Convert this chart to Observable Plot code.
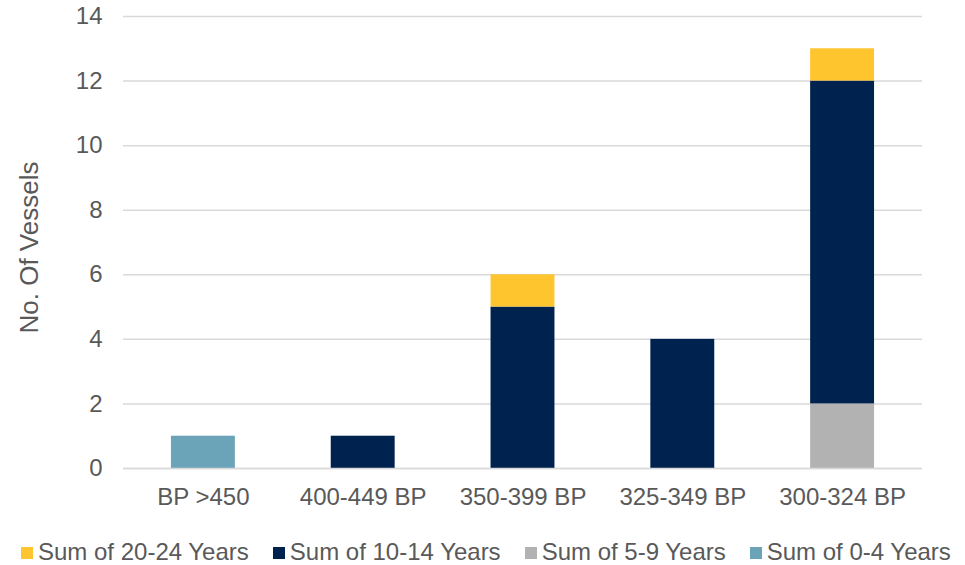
<!DOCTYPE html>
<html>
<head>
<meta charset="utf-8">
<script src="https://cdn.jsdelivr.net/npm/d3@7"></script>
<script src="https://cdn.jsdelivr.net/npm/@observablehq/plot@0.6"></script>
<style>
  html, body { margin: 0; padding: 0; background: #fff; }
  #chart { width: 965px; font-family: "Liberation Sans", Arial, sans-serif; }
  .legend { display: flex; align-items: center; height: 35px; box-sizing: border-box; padding: 9px 0 0 21px; font-size: 24px; line-height: 24px; color: #595959; white-space: nowrap; }
  .legend .item { display: flex; align-items: center; margin-right: 24px; }
  .legend .sw { width: 12px; height: 12px; margin-right: 5px; margin-top: 2px; }
</style>
</head>
<body>
<div id="chart"></div>
<script>
// Vessel size bands along the x axis
const categories = ["BP >450", "400-449 BP", "350-399 BP", "325-349 BP", "300-324 BP"];

// Age groups, stacked bottom to top
const series = ["Sum of 0-4 Years", "Sum of 5-9 Years", "Sum of 10-14 Years", "Sum of 20-24 Years"];
const colors = ["#6BA4B8", "#B2B2B2", "#00224F", "#FFC52F"];

// Number of vessels per band, one array per age group
const age0to4   = [1, 0, 0, 0, 0];
const age5to9   = [0, 0, 0, 0, 2];
const age10to14 = [0, 1, 5, 4, 10];
const age20to24 = [0, 0, 1, 0, 1];

const yTicks = [0, 2, 4, 6, 8, 10, 12, 14];
const legendOrder = ["Sum of 20-24 Years", "Sum of 10-14 Years", "Sum of 5-9 Years", "Sum of 0-4 Years"];

const seriesValues = [age0to4, age5to9, age10to14, age20to24];
const rows = [];
series.forEach((s, i) => {
  categories.forEach((c, j) => {
    rows.push({band: c, age: s, count: seriesValues[i][j]});
  });
});

const plot = Plot.plot({
  width: 965,
  height: 530,
  marginLeft: 123,
  marginRight: 43,
  marginTop: 16,
  marginBottom: 62,
  style: {fontFamily: "Liberation Sans, Arial, sans-serif", fontSize: "24px", color: "#595959", background: "#fff"},
  x: {domain: categories, paddingInner: 0.6, paddingOuter: 0.3, round: false, label: null},
  y: {domain: [0, 14], label: null},
  color: {domain: series, range: colors},
  marks: [
    Plot.gridY(yTicks, {stroke: "#d9d9d9", strokeOpacity: 1, strokeWidth: 1.5}),
    Plot.barY(rows, {x: "band", y: "count", fill: "age", order: series}),
    Plot.axisY({
      ticks: yTicks, tickSize: 0, tickPadding: 21, fontSize: 24,
      label: "No. Of Vessels", labelAnchor: "center", labelArrow: "none", labelOffset: 104
    }),
    Plot.axisX({tickSize: 0, tickPadding: 19, fontSize: 24, label: null}),
    Plot.ruleY([0], {stroke: "#d9d9d9", strokeWidth: 1.5})
  ]
});

// Rotated y axis title is a little larger than the tick labels, centred slightly lower
plot.querySelectorAll("g[aria-label='y-axis label']").forEach(g => {
  g.setAttribute("font-size", "26");
  const tr = g.getAttribute("transform") || "";
  g.setAttribute("transform", tr + " translate(0,5)");
});
plot.querySelectorAll("g[aria-label='y-axis label'] text").forEach(t => t.setAttribute("font-size", "26"));

const chart = document.getElementById("chart");
chart.appendChild(plot);

const legend = document.createElement("div");
legend.className = "legend";
legendOrder.forEach(name => {
  const item = document.createElement("div");
  item.className = "item";
  const sw = document.createElement("span");
  sw.className = "sw";
  sw.style.background = colors[series.indexOf(name)];
  const label = document.createElement("span");
  label.textContent = name;
  item.appendChild(sw);
  item.appendChild(label);
  legend.appendChild(item);
});
chart.appendChild(legend);
</script>
</body>
</html>
